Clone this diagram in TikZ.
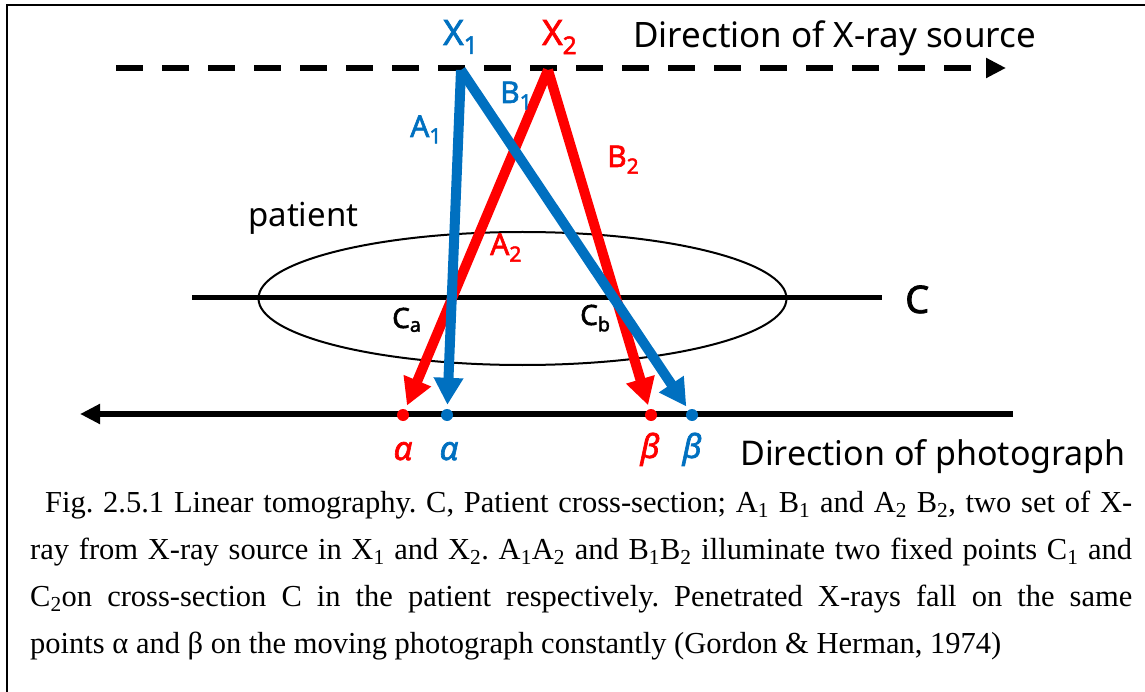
\documentclass[tikz,border=0pt]{standalone}
\usepackage{fontspec}
\usepackage{xcolor}
\usetikzlibrary{arrows.meta,positioning}

\newfontfamily\labelfont{Noto Sans}
\newfontfamily\labelbold[FakeBold=2]{Noto Sans}
\newfontfamily\capfont{Liberation Serif}
\definecolor{xblue}{HTML}{0070C0}
\definecolor{xred}{HTML}{FF0000}

\tikzset{
  ray/.style={line width=10pt, shorten >=4pt, -{Triangle[length=27pt,width=28pt]}},
  film/.style={circle, fill, inner sep=0pt, minimum size=12pt},
  lbl/.style={inner sep=0pt, anchor=base west, font=\labelbold\fontsize{30}{30}\selectfont},
  txt/.style={inner sep=0pt, anchor=base west, font=\labelfont\fontsize{34}{34}\selectfont},
  greek/.style={inner sep=0pt, anchor=base, font=\labelbold\itshape\fontsize{33}{33}\selectfont},
  capline/.style={inner sep=0pt, anchor=base west, font=\capfont\fontsize{30.5}{47}\selectfont\frenchspacing},
}

\begin{document}
\begin{tikzpicture}[x=1pt, y=-1pt]
  \useasboundingbox (0,0) rectangle (1145,692);

  % frame
  \coordinate (fr1) at (7,692);
  \coordinate (fr2) at (7,5);
  \coordinate (fr3) at (1145,5);
  \draw[line width=2pt] (fr1) -- (fr2) -- (fr3);

  % Define coordinates for nodes
  \coordinate (srcL) at (116,68);
  \coordinate (srcR) at (1006,68);
  \coordinate (X1) at (461,70);
  \coordinate (X2) at (548,70);
  \coordinate (filmL) at (80,414);
  \coordinate (filmR) at (1013,414);
  \coordinate (secL) at (192,298);
  \coordinate (secR) at (882,298);

  % source and film lines
  \draw[line width=6pt, dash pattern=on 27pt off 19pt, -{Triangle[length=20pt,width=19pt]}] (srcL) -- (srcR);
  \draw[line width=6pt, -{Triangle[length=20pt,width=19pt]}] (filmR) -- (filmL);

  % patient
  \draw[line width=2pt] (522.5,298.5) ellipse [x radius=264pt, y radius=66.5pt];
  \draw[line width=5pt] (secL) -- (secR);

  % points on the photograph
  \node[film, xred] (a2) at (403,415) {};
  \node[film, xblue] (a1) at (447,415) {};
  \node[film, xred] (b2) at (651,415) {};
  \node[film, xblue] (b1) at (692,415) {};

  % Draw arrows between nodes
  \draw[ray, xred] (X2) -- (a2);
  \draw[ray, xred] (X2) -- (b2);
  \draw[ray, xblue] (X1) -- (a1);
  \draw[ray, xblue] (X1) -- (b1);

  % labels
  \node[lbl, xblue, font=\labelbold\fontsize{35}{35}\selectfont] (lX1) at (443,45) {X\textsubscript{1}};
  \node[lbl, xred, font=\labelbold\fontsize{35}{35}\selectfont] (lX2) at (542,45) {X\textsubscript{2}};
  \node[lbl, xblue] (lA1) at (410,137) {A\textsubscript{1}};
  \node[lbl, xblue] (lB1) at (500,103) {B\textsubscript{1}};
  \node[lbl, xred] (lB2) at (607,167) {B\textsubscript{2}};
  \node[lbl, xred] (lA2) at (490,255) {A\textsubscript{2}};
  \node[lbl, font=\labelbold\fontsize{28}{28}\selectfont] (lCa) at (392,328) {C\textsubscript{a}};
  \node[lbl, font=\labelbold\fontsize{28}{28}\selectfont] (lCb) at (580,325) {C\textsubscript{b}};
  \node[lbl, font=\labelbold\fontsize{38}{38}\selectfont] (lC) at (905,313) {C};
  \node[txt, font=\labelfont\fontsize{33}{33}\selectfont] (pat) at (248,227) {patient};
  \node[txt, font=\labelfont\fontsize{35}{35}\selectfont] (dirsrc) at (633,48) {Direction of X-ray source};
  \node[txt] (dirfilm) at (740,465) {Direction of photograph};
  \node[greek, xred] (ga2) at (403,460) {α};
  \node[greek, xblue] (ga1) at (449,460) {α};
  \node[greek, xred] (gb2) at (650,458) {β};
  \node[greek, xblue] (gb1) at (692,458) {β};

  % caption
  \node[capline] (cap1) at (45,512) {\makebox[1087pt][s]{Fig. 2.5.1 Linear tomography. C, Patient cross-section; A\textsubscript{1} B\textsubscript{1} and A\textsubscript{2} B\textsubscript{2}, two set of X-}};
  \node[capline] (cap2) at (30,559) {\makebox[1102pt][s]{ray from X-ray source in X\textsubscript{1} and X\textsubscript{2}. A\textsubscript{1}A\textsubscript{2} and B\textsubscript{1}B\textsubscript{2} illuminate two fixed points C\textsubscript{1} and}};
  \node[capline] (cap3) at (30,606) {\makebox[1102pt][s]{C\textsubscript{2}on cross-section C in the patient respectively. Penetrated X-rays fall on the same}};
  \node[capline] (cap4) at (30,653) {points α and β on the moving photograph constantly (Gordon \& Herman, 1974)};
\end{tikzpicture}
\end{document}
